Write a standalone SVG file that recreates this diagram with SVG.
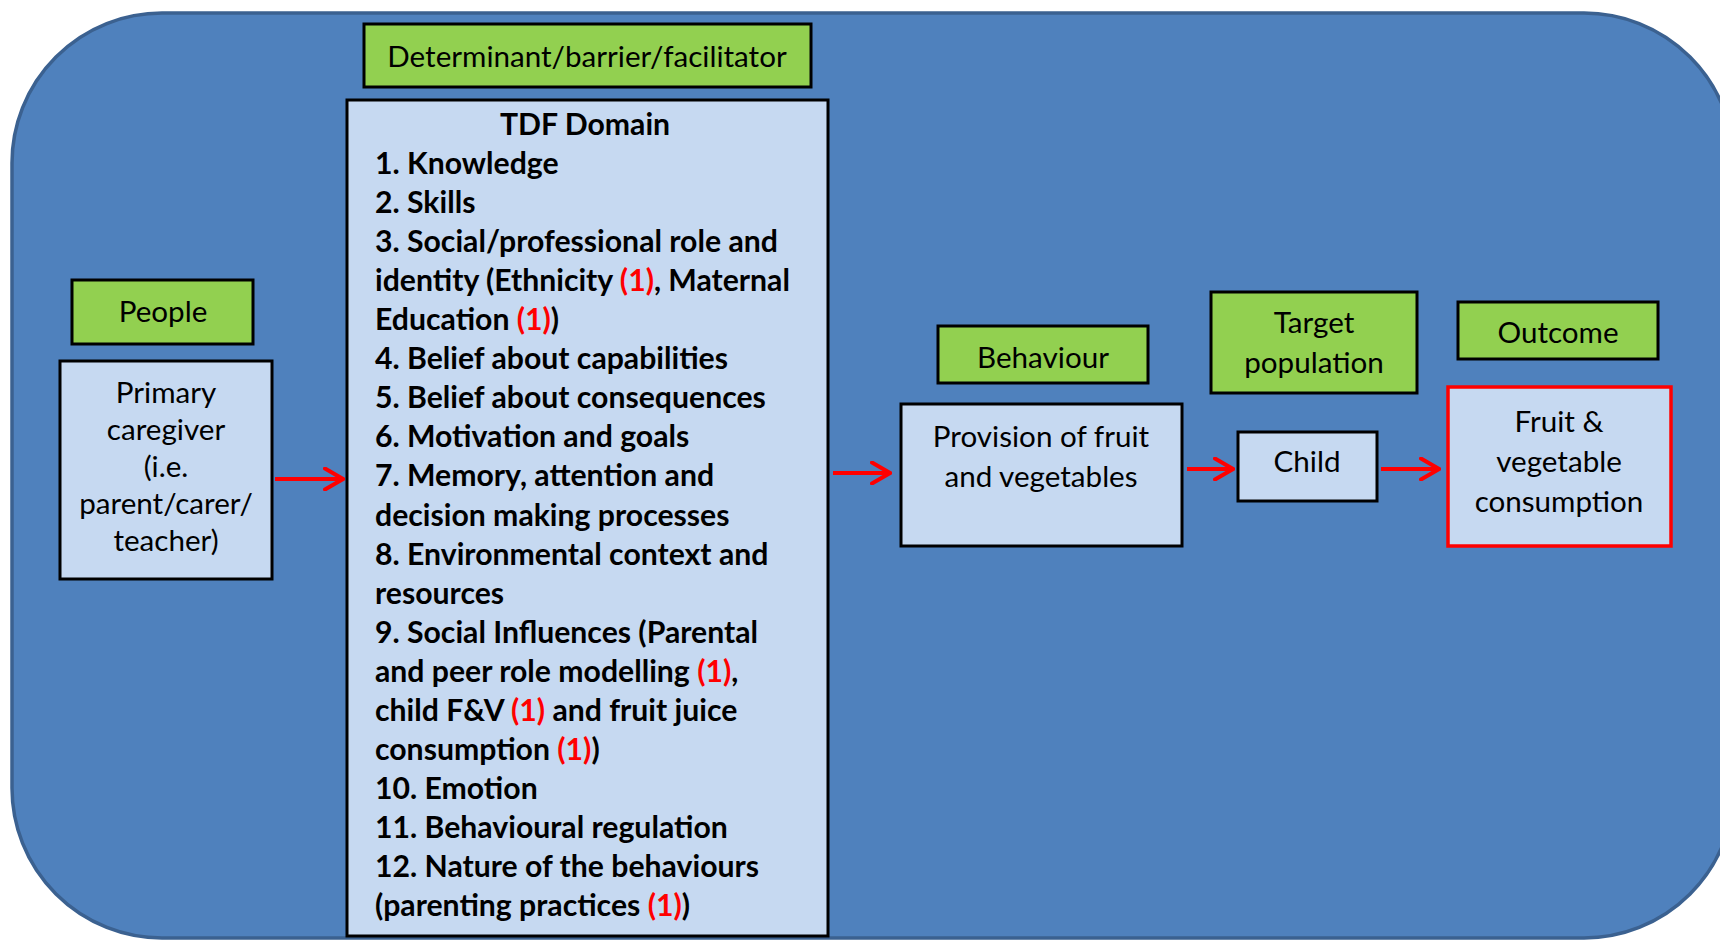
<svg xmlns="http://www.w3.org/2000/svg" width="1720" height="940" viewBox="0 0 1720 940">
<style>
.bg{fill:#4F81BD;stroke:#3B6190;stroke-width:3.5}
.lbl{fill:#92D050;stroke:#000;stroke-width:3}
.box{fill:#C6D9F1;stroke:#000;stroke-width:3}
.rbox{fill:#C6D9F1;stroke:#FF0000;stroke-width:3.5}
text{font-family:Lato,"Liberation Sans",sans-serif;font-size:29.6px;fill:#000}
.c{text-anchor:middle}
.b{font-weight:bold;font-size:30.2px}
.r{fill:#FF0000}
.arr{stroke:#FF0000;stroke-width:4;fill:none;marker-end:url(#ah)}
</style>
<defs>
<marker id="ah" viewBox="0 0 22 24" refX="20" refY="12" markerWidth="22" markerHeight="24" markerUnits="userSpaceOnUse" orient="auto">
<path d="M2,1.5 L20,12 L2,22.5" fill="none" stroke="#FF0000" stroke-width="4" stroke-linecap="round" stroke-linejoin="miter"/>
</marker>
</defs>
<rect class="bg" x="12" y="13" width="1722" height="925" rx="150" ry="150"/>

<g id="determinant">
<rect class="lbl" x="364" y="24" width="447" height="63"/>
<text class="c" x="587" y="67">Determinant/barrier/facilitator</text>
</g>

<g id="tdf">
<rect class="box" x="347" y="100" width="481" height="836"/>
<text class="c b" x="585" y="135">TDF Domain</text>
<text class="b" x="375" y="174">1. Knowledge</text>
<text class="b" x="375" y="213">2. Skills</text>
<text class="b" x="375" y="252">3. Social/professional role and</text>
<text class="b" x="375" y="291">identity (Ethnicity <tspan class="r">(1)</tspan>, Maternal</text>
<text class="b" x="375" y="330">Education <tspan class="r">(1)</tspan>)</text>
<text class="b" x="375" y="369">4. Belief about capabilities</text>
<text class="b" x="375" y="408">5. Belief about consequences</text>
<text class="b" x="375" y="447">6. Motivation and goals</text>
<text class="b" x="375" y="486">7. Memory, attention and</text>
<text class="b" x="375" y="526">decision making processes</text>
<text class="b" x="375" y="565">8. Environmental context and</text>
<text class="b" x="375" y="604">resources</text>
<text class="b" x="375" y="643">9. Social Influences (Parental</text>
<text class="b" x="375" y="682">and peer role modelling <tspan class="r">(1)</tspan>,</text>
<text class="b" x="375" y="721">child F&amp;V <tspan class="r">(1)</tspan> and fruit juice</text>
<text class="b" x="375" y="760">consumption <tspan class="r">(1)</tspan>)</text>
<text class="b" x="375" y="799">10. Emotion</text>
<text class="b" x="375" y="838">11. Behavioural regulation</text>
<text class="b" x="375" y="877">12. Nature of the behaviours</text>
<text class="b" x="375" y="916">(parenting practices <tspan class="r">(1)</tspan>)</text>
</g>

<g id="people">
<rect class="lbl" x="72" y="280" width="181" height="64"/>
<text class="c" x="163" y="322">People</text>
</g>

<g id="primary-caregiver">
<rect class="box" x="60" y="361" width="212" height="218"/>
<text class="c" x="166" y="403">Primary</text>
<text class="c" x="166" y="440">caregiver</text>
<text class="c" x="166" y="477">(i.e.</text>
<text class="c" x="166" y="514">parent/carer/</text>
<text class="c" x="166" y="551">teacher)</text>
</g>

<g id="behaviour">
<rect class="lbl" x="938" y="326" width="210" height="57"/>
<text class="c" x="1043" y="368">Behaviour</text>
</g>

<g id="provision">
<rect class="box" x="901" y="404" width="281" height="142"/>
<text class="c" x="1041" y="447">Provision of fruit</text>
<text class="c" x="1041" y="487">and vegetables</text>
</g>

<g id="target-population">
<rect class="lbl" x="1211" y="292" width="206" height="101"/>
<text class="c" x="1314" y="333">Target</text>
<text class="c" x="1314" y="373">population</text>
</g>

<g id="child">
<rect class="box" x="1238" y="432" width="139" height="69"/>
<text class="c" x="1307" y="472">Child</text>
</g>

<g id="outcome">
<rect class="lbl" x="1458" y="302" width="200" height="57"/>
<text class="c" x="1558" y="343">Outcome</text>
</g>

<g id="fruit-veg">
<rect class="rbox" x="1448" y="387" width="223" height="159"/>
<text class="c" x="1559" y="432">Fruit &amp;</text>
<text class="c" x="1559" y="472">vegetable</text>
<text class="c" x="1559" y="512">consumption</text>
</g>

<g id="connectors">
<path class="arr" d="M275,479 H343"/>
<path class="arr" d="M833,473 H890"/>
<path class="arr" d="M1187,469 H1233"/>
<path class="arr" d="M1381,469 H1439"/>
</g>
</svg>
